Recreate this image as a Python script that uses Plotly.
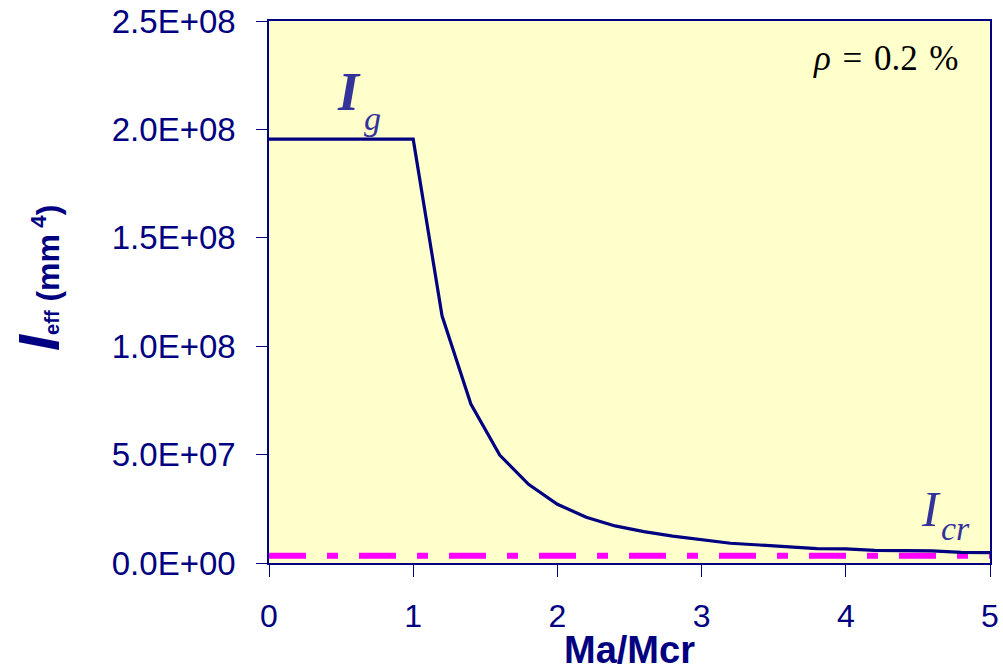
import plotly.graph_objects as go

# Data
ratio = [0, 0.2, 0.4, 0.6, 0.8, 1.0, 1.2, 1.4, 1.6, 1.8, 2.0, 2.2, 2.4, 2.6, 2.8,
         3.0, 3.2, 3.4, 3.6, 3.8, 4.0, 4.2, 4.4, 4.6, 4.8, 5.0]
i_eff = [1.955e8, 1.955e8, 1.955e8, 1.955e8, 1.955e8, 1.955e8, 1.14e8, 0.733e8,
         0.498e8, 0.363e8, 0.271e8, 0.211e8, 0.171e8, 0.145e8, 0.124e8,
         0.106e8, 0.091e8, 0.083e8, 0.074e8, 0.066e8, 0.065e8, 0.058e8,
         0.057e8, 0.056e8, 0.049e8, 0.048e8]
icr_x = [0, 5]
icr_y = [0.034e8, 0.034e8]

y_ticks = [0, 5e7, 1e8, 1.5e8, 2e8, 2.5e8]
y_tick_text = ["0.0E+00", "5.0E+07", "1.0E+08", "1.5E+08", "2.0E+08", "2.5E+08"]
x_ticks = [0, 1, 2, 3, 4, 5]

NAVY = "#000080"
SANS = "Liberation Sans, Arial, sans-serif"
SERIF = "Liberation Serif, Times New Roman, serif"

fig = go.Figure()
fig.add_trace(go.Scatter(x=icr_x, y=icr_y, mode="lines",
                         line=dict(color="#FF00FF", width=6, dash="37px,21px,11px,21px"),
                         hoverinfo="skip", showlegend=False))
fig.add_trace(go.Scatter(x=ratio, y=i_eff, mode="lines",
                         line=dict(color=NAVY, width=3.2),
                         showlegend=False))

fig.update_layout(
    width=1003, height=670,
    margin=dict(l=269, r=13, t=21, b=107, autoexpand=False),
    paper_bgcolor="white",
    plot_bgcolor="#FFFFCC",
    font=dict(family=SANS, color=NAVY, size=33),
    showlegend=False,
)
fig.update_xaxes(
    range=[0, 5], tickvals=x_ticks, ticks="outside", ticklen=12, tickwidth=1.3,
    tickcolor=NAVY, showline=True, linecolor=NAVY, linewidth=1.5, mirror=True,
    showgrid=False, zeroline=False, tickfont=dict(size=32, color=NAVY),
    ticklabelstandoff=12, automargin=False,
)
fig.update_yaxes(
    range=[0, 2.5e8], tickvals=y_ticks, ticktext=y_tick_text, ticks="outside",
    ticklen=11, tickwidth=1.3, tickcolor=NAVY, showline=True, linecolor=NAVY,
    linewidth=1.5, mirror=True, showgrid=False, zeroline=False,
    tickfont=dict(size=33, color=NAVY), ticklabelstandoff=14, automargin=False,
)

annos = [
    # x-axis title
    dict(text="<b>Ma/Mcr</b>", xref="paper", yref="paper", x=0.5, y=0,
         xanchor="center", yanchor="middle", yshift=-87, showarrow=False,
         font=dict(family=SANS, size=38, color=NAVY)),
    # y-axis title
    dict(text="<b><i><span style='font-size:58px'>I</span></i></b><b><span style='font-size:20px'>eff</span>"
              " (mm<sup> 4</sup>)</b>",
         xref="paper", yref="paper", x=0, y=0.5, xanchor="center", yanchor="middle",
         xshift=-231, yshift=14, textangle=-90, showarrow=False,
         font=dict(family=SANS, size=32, color=NAVY)),
    # Ig label
    dict(text="<b><i>I</i></b>", xref="paper", yref="paper", x=0, y=1,
         xanchor="center", yanchor="middle", xshift=349 - 269, yshift=-(92 - 21),
         showarrow=False, font=dict(family=SERIF, size=54, color="#333399")),
    dict(text="<i>g</i>", xref="paper", yref="paper", x=0, y=1,
         xanchor="center", yanchor="middle", xshift=372 - 269, yshift=-(118 - 21),
         showarrow=False, font=dict(family=SERIF, size=34, color="#333399")),
    # Icr label
    dict(text="<i>I</i>", xref="paper", yref="paper", x=0, y=1,
         xanchor="center", yanchor="middle", xshift=931 - 269, yshift=-(509 - 21),
         showarrow=False, font=dict(family=SERIF, size=50, color="#333399")),
    dict(text="<i>cr</i>", xref="paper", yref="paper", x=0, y=1,
         xanchor="center", yanchor="middle", xshift=955 - 269, yshift=-(528 - 21),
         showarrow=False, font=dict(family=SERIF, size=34, color="#333399")),
    # rho label
    dict(text="<i>ρ</i>\u2004=\u20040.2\u2004%", xref="paper", yref="paper", x=0, y=1,
         xanchor="center", yanchor="middle", xshift=885 - 269, yshift=-(58 - 21),
         showarrow=False, font=dict(family=SERIF, size=35, color="black")),
]
fig.update_layout(annotations=annos)

fig.write_html("out.html")
